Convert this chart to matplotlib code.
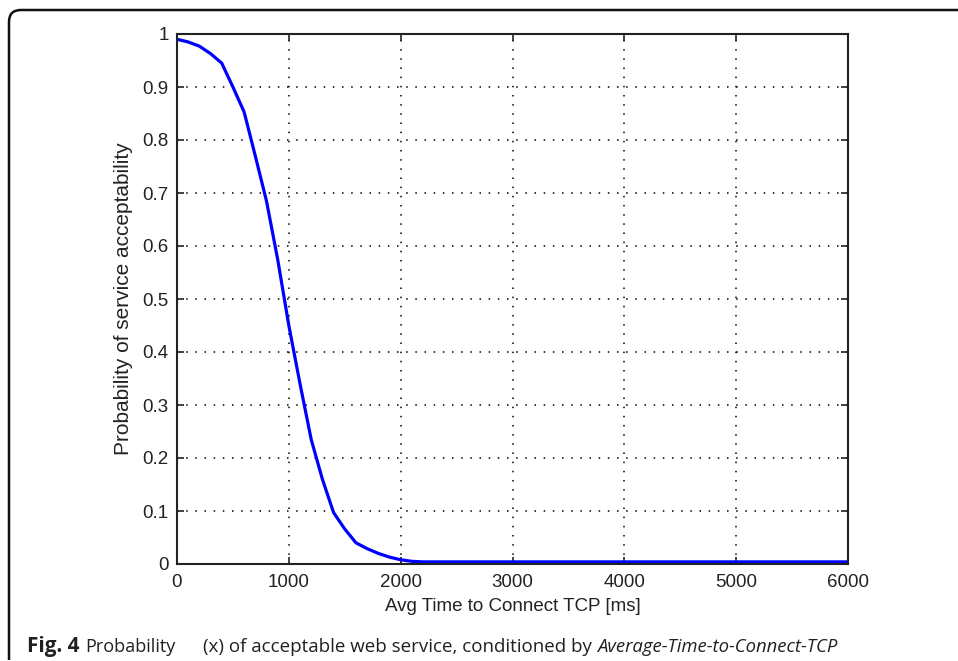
import matplotlib
matplotlib.use("Agg")
import matplotlib.pyplot as plt
from matplotlib.path import Path
from matplotlib.patches import PathPatch

# ---- data ----
time_ms = [0, 100, 200, 300, 400, 500, 600, 700, 800, 900, 1000, 1100, 1200,
           1300, 1400, 1500, 1600, 1700, 1800, 1900, 2000, 2100, 2200, 6000]
prob = [0.99, 0.985, 0.977, 0.963, 0.945, 0.90, 0.853, 0.77, 0.685, 0.575,
        0.45, 0.34, 0.235, 0.16, 0.097, 0.066, 0.040, 0.029, 0.020, 0.013,
        0.008, 0.005, 0.004, 0.004]
x_ticks = [0, 1000, 2000, 3000, 4000, 5000, 6000]
x_tick_labels = ["0", "1000", "2000", "3000", "4000", "5000", "6000"]
y_ticks = [0, 0.1, 0.2, 0.3, 0.4, 0.5, 0.6, 0.7, 0.8, 0.9, 1]
y_tick_labels = ["0", "0.1", "0.2", "0.3", "0.4", "0.5", "0.6", "0.7", "0.8", "0.9", "1"]
x_label = "Avg Time to Connect TCP [ms]"
y_label = "Probability of service acceptability"
cap_bold = "Fig. 4"
cap_normal1 = "Probability"
cap_normal2 = "(x) of acceptable web service, conditioned by"
cap_italic = "Average-Time-to-Connect-TCP"

W, H = 958, 661
fig = plt.figure(figsize=(W / 100, H / 100), dpi=100)

# axes in pixel coords
L, R, T, B = 177, 848, 34, 564
ax = fig.add_axes([L / W, (H - B) / H, (R - L) / W, (B - T) / H])
ax.plot(time_ms, prob, color="#0000ff", lw=2.3, solid_joinstyle="miter")
ax.set_xlim(0, 6000)
ax.set_ylim(0, 1)
ax.set_xticks(x_ticks)
ax.set_xticklabels(x_tick_labels)
ax.set_yticks(y_ticks)
ax.set_yticklabels(y_tick_labels)
tick_font = "Liberation Sans"
for lab in ax.get_xticklabels() + ax.get_yticklabels():
    lab.set_fontfamily(tick_font)
    lab.set_fontsize(13.5)
    lab.set_color("#222222")
ax.tick_params(direction="in", length=5, width=1.2, top=True, right=True,
               pad=6, colors="#222222")
ax.tick_params(axis="x", pad=7)
ax.grid(True, color="black", linestyle=(0, (1, 5)), linewidth=1.1)
for s in ax.spines.values():
    s.set_linewidth(1.5)
    s.set_color("#222222")
ax.set_xlabel(x_label, fontsize=13.5, fontfamily=tick_font, color="#222222", labelpad=5)
ax.set_ylabel(y_label, fontsize=15, fontfamily=tick_font, color="#222222", labelpad=7)

# frame (rounded top-left corner)
def fx(px):
    return px / W
def fy(py):
    return 1 - py / H
r = 12
verts = [(fx(W + 2), fy(10)), (fx(9 + r), fy(10)), (fx(9), fy(10)), (fx(9), fy(10 + r)),
         (fx(9), fy(660))]
codes = [Path.MOVETO, Path.LINETO, Path.CURVE3, Path.CURVE3, Path.LINETO]
fig.patches.append(PathPatch(Path(verts, codes), transform=fig.transFigure,
                             fill=False, lw=1.8, edgecolor="#111111"))

# caption
cap_font = "Open Sans"
base_y = fy(652)
renderer = fig.canvas.get_renderer()

def place(txt, x0, x1, weight="normal", style="normal", size=13):
    t = fig.text(fx(x0), base_y, txt, fontsize=size, fontfamily=cap_font,
                 fontweight=weight, fontstyle=style, color="#231f20",
                 va="baseline", ha="left")
    w = t.get_window_extent(renderer).width
    t.set_fontsize(size * (x1 - x0) / w)
    return t

place(cap_bold, 27, 79, weight="bold", size=13)
place(cap_normal1, 85, 175, size=13)
place(cap_normal2, 203, 590, size=13)
place(cap_italic, 597, 837, style="italic", size=13)

fig.savefig("out.png", dpi=100)
